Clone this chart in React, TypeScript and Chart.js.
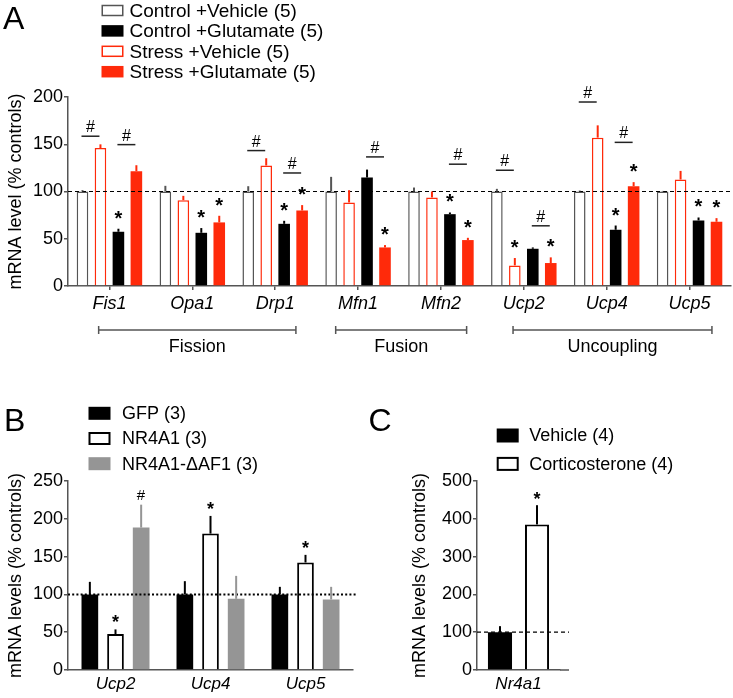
import React, { useEffect, useRef } from 'react';
import { Chart, registerables } from 'chart.js';

Chart.register(...registerables);

const FONT = "'Liberation Sans', Arial, Helvetica, sans-serif";
const RED = '#ff2a0a';
const AXIS = '#555555';
const GRAYBAR = '#959595';

// ---------------- Panel A data ----------------
const genesA = ['Fis1', 'Opa1', 'Drp1', 'Mfn1', 'Mfn2', 'Ucp2', 'Ucp4', 'Ucp5'];
const ctrlVehicle = [100, 100, 100, 100, 100, 100, 100, 100];
const ctrlVehicleErr = [1.5, 6, 5.6, 15.5, 4.2, 2.8, 1, 0.6];
const stressVehicle = [146, 90.8, 127.5, 88.4, 93.7, 21.8, 157, 112.7];
const stressVehicleErr = [3.9, 4.6, 7.7, 13, 6.3, 7.8, 13, 9.1];
const ctrlGlutamate = [57.4, 56.3, 65.8, 114.8, 76, 39.4, 59.5, 69.4];
const ctrlGlutamateErr = [3.2, 5, 3.2, 8.4, 1.8, 1.4, 4.5, 3.1];
const stressGlutamate = [121.5, 67.3, 79.9, 40.8, 48.6, 24.3, 105.6, 68];
const stressGlutamateErr = [6.3, 7, 5.7, 2.5, 2.4, 6, 4.3, 3.8];
const yTicksA = [0, 50, 100, 150, 200];
const legendLabelsA = ['Control +Vehicle (5)', 'Control +Glutamate (5)', 'Stress +Vehicle (5)', 'Stress +Glutamate (5)'];
// dataset order in plot: 0 ctrlVeh, 1 stressVeh, 2 ctrlGlu, 3 stressGlu
const starsA: Array<[number, number]> = [
  [2, 0], [2, 1], [3, 1], [2, 2], [3, 2], [3, 3], [2, 4], [3, 4], [1, 5], [3, 5], [2, 6], [3, 6], [2, 7], [3, 7],
];
const hashesA = [
  { cat: 0, a: 0, b: 1, level: 158.5 },
  { cat: 0, a: 2, b: 3, level: 149.6 },
  { cat: 2, a: 0, b: 1, level: 143.3 },
  { cat: 2, a: 2, b: 3, level: 119.6 },
  { cat: 3, a: 2, b: 3, level: 136.6 },
  { cat: 4, a: 2, b: 3, level: 128.9 },
  { cat: 5, a: 0, b: 1, level: 122.5 },
  { cat: 5, a: 2, b: 3, level: 63.7 },
  { cat: 6, a: 0, b: 1, level: 194.7 },
  { cat: 6, a: 2, b: 3, level: 152 },
];
const groupsA = [
  { label: 'Fission', from: -0.13, to: 2.25 },
  { label: 'Fusion', from: 2.73, to: 4.31 },
  { label: 'Uncoupling', from: 4.87, to: 7.27 },
];

// ---------------- Panel B data ----------------
const genesB = ['Ucp2', 'Ucp4', 'Ucp5'];
const gfp = [100, 100, 100];
const gfpErr = [16.6, 17.5, 10];
const nr4a1 = [47.5, 180.4, 142.2];
const nr4a1Err = [6.2, 23.4, 10.1];
const nr4a1dAF1 = [188.4, 94.2, 93.3];
const nr4a1dAF1Err = [30.3, 30.3, 16.7];
const yTicksB = [0, 50, 100, 150, 200, 250];
const legendLabelsB = ['GFP (3)', 'NR4A1 (3)', 'NR4A1-\u0394AF1 (3)'];
const starsB: Array<[number, number]> = [[1, 0], [1, 1], [1, 2]];
const hashesB: Array<[number, number]> = [[2, 0]];

// ---------------- Panel C data ----------------
const genesC = ['Nr4a1'];
const vehicleC = [100];
const vehicleCErr = [16];
const corticoC = [385];
const corticoCErr = [51];
const yTicksC = [0, 100, 200, 300, 400, 500];
const legendLabelsC = ['Vehicle (4)', 'Corticosterone (4)'];
const starsC: Array<[number, number]> = [[1, 0]];

// ---------------- helpers ----------------
function centeredText(ctx: CanvasRenderingContext2D, text: string, x: number, cy: number, font: string) {
  ctx.font = font;
  ctx.textAlign = 'left';
  ctx.textBaseline = 'alphabetic';
  const m = ctx.measureText(text);
  const L = m.actualBoundingBoxLeft, R = m.actualBoundingBoxRight;
  const A = m.actualBoundingBoxAscent, D = m.actualBoundingBoxDescent;
  ctx.fillText(text, x + (L - R) / 2, cy + (A - D) / 2);
}

function errTopPx(chart: any, di: number, j: number, errs: number[][]) {
  const v = (chart.data.datasets[di].data as number[])[j];
  return chart.scales.y.getPixelForValue(v + errs[di][j]);
}

function drawErrors(chart: any, errs: number[][], colors: string[], lw: number) {
  const ctx = chart.ctx as CanvasRenderingContext2D;
  ctx.save();
  ctx.lineWidth = lw;
  errs.forEach((arr, di) => {
    const meta = chart.getDatasetMeta(di);
    meta.data.forEach((bar: any, j: number) => {
      const top = errTopPx(chart, di, j, errs);
      ctx.strokeStyle = colors[di];
      ctx.beginPath();
      ctx.moveTo(bar.x, bar.y);
      ctx.lineTo(bar.x, top);
      ctx.stroke();
    });
  });
  ctx.restore();
}

function drawRefLine(chart: any, value: number, dash: number[], lw: number, extra = 0) {
  const ctx = chart.ctx as CanvasRenderingContext2D;
  const area = chart.chartArea;
  const y = chart.scales.y.getPixelForValue(value);
  ctx.save();
  ctx.setLineDash(dash);
  ctx.lineWidth = lw;
  ctx.strokeStyle = '#000';
  ctx.beginPath();
  ctx.moveTo(area.left, y);
  ctx.lineTo(area.right + extra, y);
  ctx.stroke();
  ctx.restore();
}

type Sw = { fill: string; stroke?: string; lw?: number };
function drawLegend(ctx: CanvasRenderingContext2D, labels: string[], styles: Sw[], x: number, cy0: number, pitch: number,
  bw: number, bh: number, tx: number, font: string) {
  ctx.save();
  labels.forEach((lab, i) => {
    const cy = cy0 + i * pitch;
    const st = styles[i];
    ctx.fillStyle = st.fill;
    ctx.fillRect(x, cy - bh / 2, bw, bh);
    if (st.stroke) {
      const lw = st.lw || 1.5;
      ctx.lineWidth = lw;
      ctx.strokeStyle = st.stroke;
      ctx.strokeRect(x + lw / 2, cy - bh / 2 + lw / 2, bw - lw, bh - lw);
    }
    ctx.fillStyle = '#000';
    ctx.font = font;
    ctx.textAlign = 'left';
    ctx.textBaseline = 'middle';
    ctx.fillText(lab, tx, cy + 1);
  });
  ctx.restore();
}

function letter(ctx: CanvasRenderingContext2D, t: string, x: number, baseline: number) {
  ctx.save();
  ctx.fillStyle = '#000';
  ctx.font = `32px ${FONT}`;
  ctx.textAlign = 'left';
  ctx.textBaseline = 'alphabetic';
  ctx.fillText(t, x, baseline);
  ctx.restore();
}

function yAxis(min: number, max: number, ticks: number[], title: string, width: number) {
  return {
    min, max,
    afterBuildTicks: (s: any) => { s.ticks = ticks.map((v) => ({ value: v })); },
    afterFit: (s: any) => { s.width = width; },
    ticks: { font: { size: 18, family: FONT }, color: '#000', padding: 1 },
    grid: { drawOnChartArea: false, drawTicks: true, tickLength: 4, color: AXIS, lineWidth: 1.5 },
    border: { color: AXIS, width: 1.5 },
    title: { display: true, text: title, color: '#000', font: { size: 18, family: FONT }, padding: { top: 5, bottom: 0 } },
  };
}

function xAxis(height: number, size: number, tickMarks: boolean, pad: number) {
  return {
    afterFit: (s: any) => { s.height = height; },
    ticks: { font: { size, style: 'italic', family: FONT }, color: '#000', padding: pad, maxRotation: 0, autoSkip: false },
    grid: { display: tickMarks, drawOnChartArea: false, drawTicks: tickMarks, tickLength: 4, offset: false, color: AXIS, lineWidth: 1.5 },
    border: { color: AXIS, width: 1.5 },
  };
}

const baseOpts = {
  animation: false as const,
  responsive: false,
  events: [] as any[],
  plugins: { legend: { display: false }, tooltip: { enabled: false } },
};

export default function App() {
  const refA = useRef<HTMLCanvasElement>(null);
  const refB = useRef<HTMLCanvasElement>(null);
  const refC = useRef<HTMLCanvasElement>(null);

  useEffect(() => {
    Chart.defaults.font.family = FONT;
    Chart.defaults.color = '#000';

    // ---------- Panel A ----------
    const errsA = [ctrlVehicleErr, stressVehicleErr, ctrlGlutamateErr, stressGlutamateErr];
    const errColA = [AXIS, RED, '#000', RED];
    const pluginA = {
      id: 'annotA',
      afterDatasetsDraw(chart: any) {
        const ctx = chart.ctx as CanvasRenderingContext2D;
        drawRefLine(chart, 100, [4, 3], 1.2);
        drawErrors(chart, errsA, errColA, 2);
        ctx.save();
        ctx.fillStyle = '#000';
        starsA.forEach(([di, j]) => {
          const bar = chart.getDatasetMeta(di).data[j];
          centeredText(ctx, '*', bar.x, errTopPx(chart, di, j, errsA) - 14, `bold 20px ${FONT}`);
        });
        hashesA.forEach((h) => {
          const xa = chart.getDatasetMeta(h.a).data[h.cat].x;
          const xb = chart.getDatasetMeta(h.b).data[h.cat].x;
          const mid = (xa + xb) / 2 - 1;
          const half = Math.abs(xb - xa) / 2;
          const y = chart.scales.y.getPixelForValue(h.level);
          ctx.strokeStyle = '#222';
          ctx.lineWidth = 1.5;
          ctx.beginPath();
          ctx.moveTo(mid - half, y);
          ctx.lineTo(mid + half, y);
          ctx.stroke();
          centeredText(ctx, '#', mid, y - 10, `16px ${FONT}`);
        });
        ctx.restore();
      },
      afterDraw(chart: any) {
        const ctx = chart.ctx as CanvasRenderingContext2D;
        letter(ctx, 'A', 3, 28.5);
        drawLegend(ctx, legendLabelsA, [
          { fill: '#fff', stroke: AXIS, lw: 1.5 },
          { fill: '#000' },
          { fill: '#fff', stroke: RED, lw: 1.5 },
          { fill: RED },
        ], 101.5, 10.5, 20.4, 22, 11.5, 129.5, `19px ${FONT}`);
        const xs = chart.scales.x;
        ctx.save();
        ctx.strokeStyle = AXIS;
        ctx.lineWidth = 1.5;
        ctx.fillStyle = '#000';
        groupsA.forEach((g) => {
          const x1 = xs.getPixelForValue(g.from);
          const x2 = xs.getPixelForValue(g.to);
          const y = 330;
          ctx.beginPath();
          ctx.moveTo(x1, y); ctx.lineTo(x2, y);
          ctx.moveTo(x1, y - 4); ctx.lineTo(x1, y + 4);
          ctx.moveTo(x2, y - 4); ctx.lineTo(x2, y + 4);
          ctx.stroke();
          ctx.font = `18px ${FONT}`;
          ctx.textAlign = 'center';
          ctx.textBaseline = 'alphabetic';
          ctx.fillText(g.label, (x1 + x2) / 2, 352);
        });
        ctx.restore();
      },
    };

    const chartA = new Chart(refA.current!, {
      type: 'bar',
      data: {
        labels: genesA,
        datasets: [
          { label: legendLabelsA[0], data: ctrlVehicle, backgroundColor: '#fff', borderColor: AXIS, borderWidth: 1.5 },
          { label: legendLabelsA[2], data: stressVehicle, backgroundColor: '#fff', borderColor: RED, borderWidth: 1.5 },
          { label: legendLabelsA[1], data: ctrlGlutamate, backgroundColor: '#000', borderWidth: 0 },
          { label: legendLabelsA[3], data: stressGlutamate, backgroundColor: RED, borderWidth: 0 },
        ],
      },
      options: {
        ...baseOpts,
        layout: { padding: { top: 97, left: 0, right: 2, bottom: 0 } },
        datasets: { bar: { categoryPercentage: 0.867, barPercentage: 0.645 } },
        scales: {
          x: xAxis(94, 18, true, 3) as any,
          y: yAxis(0, 200, yTicksA, 'mRNA level (% controls)', 68) as any,
        },
      } as any,
      plugins: [pluginA],
    });

    // ---------- Panel B ----------
    const errsB = [gfpErr, nr4a1Err, nr4a1dAF1Err];
    const errColB = ['#000', '#000', GRAYBAR];
    const pluginB = {
      id: 'annotB',
      afterDatasetsDraw(chart: any) {
        const ctx = chart.ctx as CanvasRenderingContext2D;
        drawRefLine(chart, 100, [2, 2.2], 2, 3);
        drawErrors(chart, errsB, errColB, 2);
        ctx.save();
        ctx.fillStyle = '#000';
        starsB.forEach(([di, j]) => {
          const bar = chart.getDatasetMeta(di).data[j];
          centeredText(ctx, '*', bar.x, errTopPx(chart, di, j, errsB) - 10.5, `bold 18px ${FONT}`);
        });
        hashesB.forEach(([di, j]) => {
          const bar = chart.getDatasetMeta(di).data[j];
          ctx.fillStyle = '#000';
          centeredText(ctx, '#', bar.x, errTopPx(chart, di, j, errsB) - 10, `15px ${FONT}`);
        });
        ctx.restore();
      },
      afterDraw(chart: any) {
        const ctx = chart.ctx as CanvasRenderingContext2D;
        letter(ctx, 'B', 4, 50.5);
        letter(ctx, 'C', 368.5, 50.5);
        drawLegend(ctx, legendLabelsB, [
          { fill: '#000' },
          { fill: '#fff', stroke: '#000', lw: 2 },
          { fill: GRAYBAR },
        ], 88.5, 33.3, 25.2, 22, 13, 122, `18px ${FONT}`);
      },
    };
    const chartB = new Chart(refB.current!, {
      type: 'bar',
      data: {
        labels: genesB,
        datasets: [
          { label: legendLabelsB[0], data: gfp, backgroundColor: '#000', borderWidth: 0 },
          { label: legendLabelsB[1], data: nr4a1, backgroundColor: '#fff', borderColor: '#000', borderWidth: 2 },
          { label: legendLabelsB[2], data: nr4a1dAF1, backgroundColor: GRAYBAR, borderWidth: 0 },
        ],
      },
      options: {
        ...baseOpts,
        layout: { padding: { top: 101, left: 0, right: 51, bottom: 0 } },
        datasets: { bar: { categoryPercentage: 0.81, barPercentage: 0.65 } },
        scales: {
          x: xAxis(28, 17, false, 4) as any,
          y: yAxis(0, 250, yTicksB, 'mRNA levels (% controls)', 68) as any,
        },
      } as any,
      plugins: [pluginB],
    });

    // ---------- Panel C ----------
    const errsC = [vehicleCErr, corticoCErr];
    const errColC = ['#000', '#000'];
    const overhang = 9;
    const pluginC = {
      id: 'annotC',
      afterDatasetsDraw(chart: any) {
        const ctx = chart.ctx as CanvasRenderingContext2D;
        const area = chart.chartArea;
        ctx.save();
        ctx.strokeStyle = AXIS;
        ctx.lineWidth = 1.5;
        ctx.beginPath();
        ctx.moveTo(area.right, area.bottom);
        ctx.lineTo(area.right + overhang, area.bottom);
        ctx.stroke();
        ctx.restore();
        drawRefLine(chart, 100, [4, 3], 1.2, overhang);
        drawErrors(chart, errsC, errColC, 2);
        ctx.save();
        ctx.fillStyle = '#000';
        starsC.forEach(([di, j]) => {
          const bar = chart.getDatasetMeta(di).data[j];
          centeredText(ctx, '*', bar.x, errTopPx(chart, di, j, errsC) - 9.5, `bold 18px ${FONT}`);
        });
        ctx.restore();
      },
      afterDraw(chart: any) {
        const ctx = chart.ctx as CanvasRenderingContext2D;
        drawLegend(ctx, legendLabelsC, [
          { fill: '#000' },
          { fill: '#fff', stroke: '#000', lw: 2 },
        ], 92.7, 55.5, 28.4, 22, 14, 125.3, `18px ${FONT}`);
      },
    };
    const chartC = new Chart(refC.current!, {
      type: 'bar',
      data: {
        labels: genesC,
        datasets: [
          { label: legendLabelsC[0], data: vehicleC, backgroundColor: '#000', borderWidth: 0 },
          { label: legendLabelsC[1], data: corticoC, backgroundColor: '#fff', borderColor: '#000', borderWidth: 2 },
        ],
      },
      options: {
        ...baseOpts,
        layout: { padding: { top: 101, left: 0, right: 173, bottom: 0 } },
        datasets: { bar: { categoryPercentage: 0.892, barPercentage: 0.65 } },
        scales: {
          x: xAxis(28, 17, false, 4) as any,
          y: yAxis(0, 500, yTicksC, 'mRNA levels (% controls)', 73) as any,
        },
      } as any,
      plugins: [pluginC],
    });

    return () => {
      chartA.destroy();
      chartB.destroy();
      chartC.destroy();
    };
  }, []);

  return (
    <div style={{ position: 'absolute', left: 0, top: 0, width: 733, height: 698, background: '#fff' }}>
      <canvas ref={refA} width={733} height={380} style={{ position: 'absolute', left: 0, top: 0, width: 733, height: 380 }} />
      <canvas ref={refB} width={404} height={318} style={{ position: 'absolute', left: 0, top: 380, width: 404, height: 318 }} />
      <canvas ref={refC} width={329} height={318} style={{ position: 'absolute', left: 404, top: 380, width: 329, height: 318 }} />
    </div>
  );
}
